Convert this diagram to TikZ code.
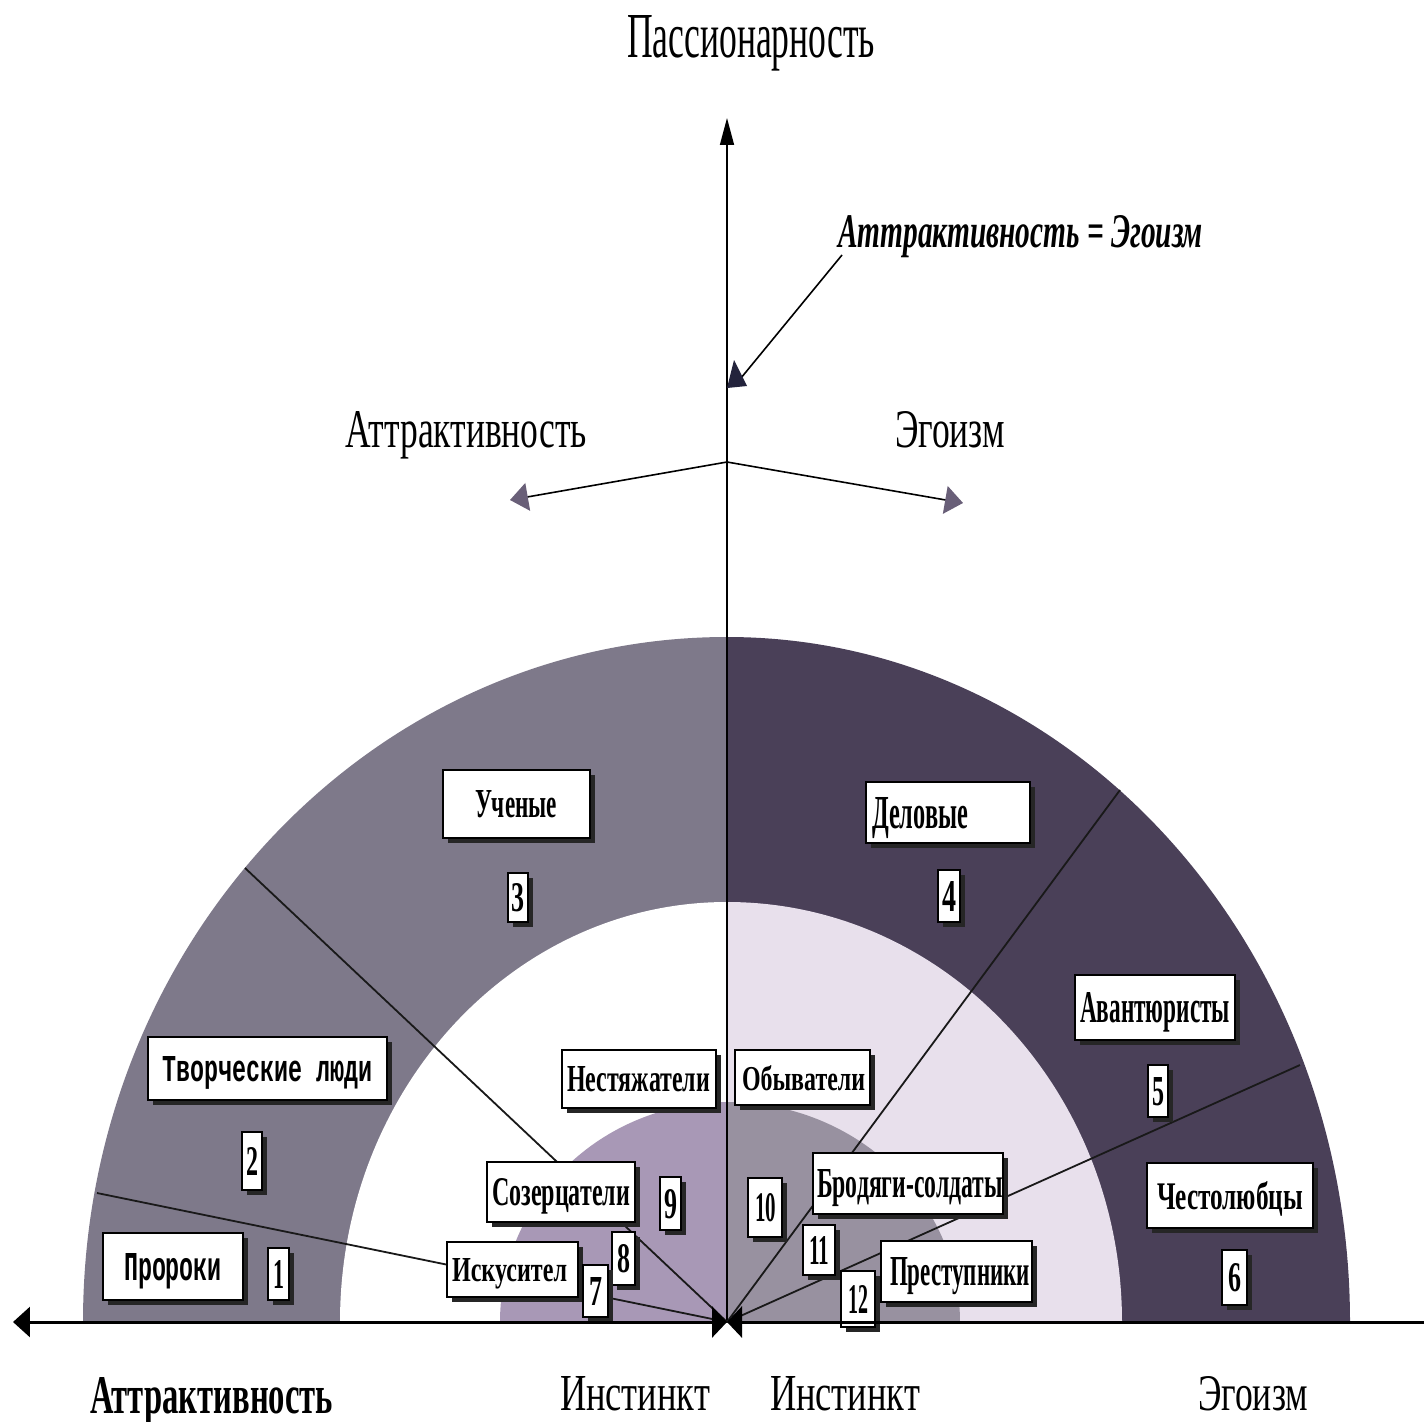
\documentclass[tikz,border=0pt]{standalone}
\usepackage{fontspec}
\setmainfont{Liberation Serif}
\newfontfamily\monob{Liberation Mono}
\usepackage{graphicx}
\usetikzlibrary{arrows.meta,shadows}
\newlength\px \setlength\px{0.05cm}
\newcommand\fitt[3]{\resizebox{#1\px}{#2\px}{#3}}
\newcommand\bx[9]{\node[bx, minimum width={(#4-#2)*0.05cm}, minimum height={(#5-#3)*0.05cm}] (#1) at ({(#2+#4)/2},{(#3+#5)/2}) {\makebox[\dimexpr\numexpr#4-#2\relax\px\relax][l]{\hspace*{#6\px}\fitt{#7}{#8}{\bfseries #9}}};}
\definecolor{oL}{RGB}{126,121,138}
\definecolor{oR}{RGB}{74,64,88}
\definecolor{iR}{RGB}{232,224,236}
\definecolor{sL}{RGB}{168,152,182}
\definecolor{sR}{RGB}{152,145,160}
\definecolor{arrowc}{RGB}{105,95,120}
\definecolor{navy}{RGB}{35,35,60}
\begin{document}
\begin{tikzpicture}[x=0.05cm,y=-0.05cm,
  bx/.style={draw=black, fill=white, line width=2\px, inner sep=0pt, outer sep=0pt, text depth=0pt,
    drop shadow={shadow xshift=5\px, shadow yshift=-5\px, fill=black!85, opacity=1}},
  lbl/.style={inner sep=0pt, outer sep=0pt, anchor=base west},
  rad/.style={draw=black!90, line width=1.8\px},
  thinl/.style={draw=black, line width=1.6\px},
  hax/.style={draw=black, line width=3\px}]
\fill[white] (0,0) rectangle (1424,1422);
\useasboundingbox (0,0) rectangle (1424,1422);
\coordinate (o) at (727,1322);
% bands
\fill[oL] (o) -- (83,1322) arc[start angle=180,end angle=270,x radius=644,y radius=685] -- cycle;
\fill[oR] (o) -- (1350,1322) arc[start angle=0,end angle=-90,x radius=623,y radius=685] -- cycle;
\fill[white] (o) -- (340,1322) arc[start angle=180,end angle=270,x radius=387,y radius=420] -- cycle;
\fill[iR] (o) -- (1122,1322) arc[start angle=0,end angle=-90,x radius=395,y radius=420] -- cycle;
\fill[sL] (o) -- (500,1322) arc[start angle=180,end angle=270,x radius=227,y radius=220] -- cycle;
\fill[sR] (o) -- (960,1322) arc[start angle=0,end angle=-90,x radius=233,y radius=220] -- cycle;
% vertical axis
\coordinate (top) at (727,118);
\draw[thinl, -{Triangle[length=1.35cm,width=0.7cm]}] (o) -- (top);
% radial lines
\coordinate (e1) at (97,1193);
\coordinate (e2) at (245,868);
\coordinate (e3) at (1120,790);
\coordinate (e4) at (1300,1065);
\draw[rad] (o) -- (e1);
\draw[rad] (o) -- (e2);
\draw[rad] (o) -- (e3);
\draw[rad] (o) -- (e4);
% boxes
\bx{uch}{443}{770}{590}{838}{32}{82}{27}{Ученые}
\bx{n3}{508}{873}{528}{922}{3}{13}{28}{3}
\bx{del}{866}{782}{1030}{843}{6}{96}{31}{Деловые}
\bx{n4}{938}{870}{960}{922}{4}{14}{30}{4}
\bx{tvor}{148}{1037}{387}{1100}{14}{210}{25}{\monob Творческие люди}
\bx{n2}{242}{1132}{262}{1190}{4}{12}{28}{2}
\bx{pror}{103}{1233}{243}{1300}{21}{98}{27}{\monob Пророки}
\bx{n1}{268}{1248}{289}{1300}{5}{11}{28}{1}
\bx{avan}{1075}{975}{1235}{1040}{5}{150}{30}{Авантюристы}
\bx{n5}{1148}{1065}{1168}{1117}{4}{12}{28}{5}
\bx{chest}{1147}{1163}{1313}{1228}{10}{146}{28}{Честолюбцы}
\bx{n6}{1222}{1250}{1247}{1305}{6}{13}{28}{6}
\bx{nest}{562}{1050}{716}{1108}{5}{143}{25}{Нестяжатели}
\bx{obyv}{735}{1050}{870}{1105}{7}{123}{25}{Обыватели}
\bx{soz}{487}{1162}{635}{1222}{5}{138}{27}{Созерцатели}
\bx{n9}{660}{1177}{681}{1230}{4}{13}{29}{9}
\bx{n10}{748}{1178}{782}{1237}{7}{21}{28}{10}
\bx{brod}{813}{1153}{1003}{1214}{4}{186}{28}{Бродяги-солдаты}
\bx{n11}{803}{1225}{835}{1275}{6}{20}{28}{11}
\bx{prest}{881}{1241}{1032}{1302}{9}{140}{28}{Преступники}
\bx{n12}{841}{1271}{875}{1327}{7}{20}{28}{12}
\bx{isk}{447}{1242}{578}{1297}{5}{115}{23}{Искусител}
\bx{n8}{612}{1232}{635}{1285}{5}{13}{28}{8}
\bx{n7}{583}{1265}{608}{1317}{6}{13}{28}{7}
% horizontal axis
\coordinate (axL) at (13,1322);
\coordinate (axR) at (1424,1322);
\draw[hax, {Triangle[length=0.85cm,width=1.5cm]}-{Triangle[length=0.75cm,width=1.55cm]}] (axL) -- (o);
\draw[hax, -{Triangle[length=0.75cm,width=1.55cm]}] (axR) -- (o);
% branch arrows
\coordinate (br) at (727,462);
\coordinate (brL) at (510,500);
\coordinate (brR) at (963,503);
\draw[thinl, -{Triangle[length=0.9cm,width=1.4cm,fill=arrowc,color=arrowc]}] (br) -- (brL);
\draw[thinl, -{Triangle[length=0.9cm,width=1.4cm,fill=arrowc,color=arrowc]}] (br) -- (brR);
% annotation arrow
\coordinate (annS) at (842,255);
\coordinate (annE) at (741,378);
\draw[thinl] (annS) -- (annE);
\fill[navy] (734,360) -- (727,388) -- (747,386) -- cycle;
% labels
\node[lbl] (tPass) at (627,57) {\fitt{248}{42}{Пассионарность}};
\node[lbl] (tAE) at (838,247) {\fitt{365}{32}{\bfseries\itshape Аттрактивность = Эгоизм}};
\node[lbl] (tAm) at (345,447) {\fitt{242}{36}{Аттрактивность}};
\node[lbl] (tEm) at (895,447) {\fitt{110}{36}{Эгоизм}};
\node[lbl] (tAb) at (90,1413) {\fitt{243}{36}{\bfseries Аттрактивность}};
\node[lbl] (tI1) at (560,1410) {\fitt{150}{34}{Инстинкт}};
\node[lbl] (tI2) at (770,1410) {\fitt{150}{34}{Инстинкт}};
\node[lbl] (tEb) at (1198,1410) {\fitt{110}{34}{Эгоизм}};
\end{tikzpicture}
\end{document}
